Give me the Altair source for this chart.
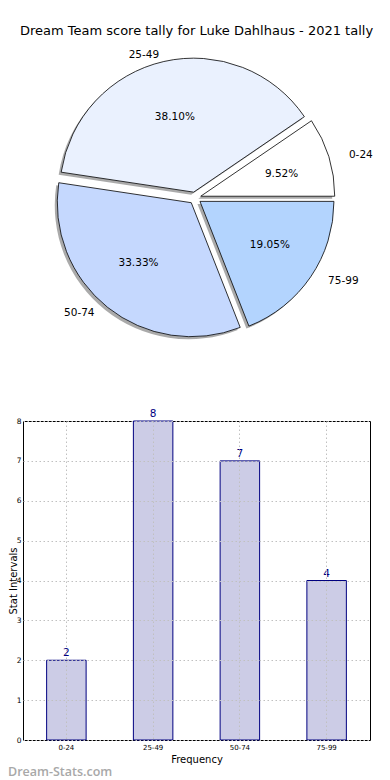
import altair as alt
import pandas as pd

# ---- data ----
labels = ["0-24", "25-49", "50-74", "75-99"]
counts = [2, 8, 7, 4]
slice_colors = ["#ffffff", "#eaf1fe", "#c5d8fe", "#b3d4fe"]
title_text = "Dream Team score tally for Luke Dahlhaus - 2021 tally"
watermark = ["Dream-Stats.com"]

FONT = "DejaVu Sans"
R = 134            # pie radius (px)
RX, RY = 141, 128  # label placement radii (reference pie is slightly elliptical)
EXPLODE = 6        # explode offset (px)
CX, CY = 172, -223 # pie centre relative to the bar plot origin

df = pd.DataFrame({"label": labels, "count": counts, "order": list(range(len(labels)))})

base = (
    alt.Chart(df)
    .transform_joinaggregate(total="sum(count)")
    .transform_window(cum="sum(count)", sort=[alt.SortField("order")])
    .transform_calculate(a1="2*PI*(datum.cum - datum.count)/datum.total")
    .transform_calculate(a2="2*PI*datum.cum/datum.total")
    .transform_calculate(mid="(datum.a1 + datum.a2)/2")
    .transform_calculate(t1="2.5*PI - datum.a2")
    .transform_calculate(t2="2.5*PI - datum.a1")
    .transform_calculate(ox=f"{CX} + {EXPLODE}*cos(datum.mid)")
    .transform_calculate(oy=f"{CY} - {EXPLODE}*sin(datum.mid)")
    .transform_calculate(pct="format(100*datum.count/datum.total, '.2f') + '%'")
)

shadow = (
    base.transform_calculate(sx="datum.ox - 2.5")
    .transform_calculate(sy="datum.oy + 2.5")
    .mark_arc(radius=R, fill="#555555", opacity=0.5)
    .encode(
        theta=alt.Theta("t1:Q", scale=None),
        theta2="t2:Q",
        x=alt.X("sx:Q", scale=None, axis=None),
        y=alt.Y("sy:Q", scale=None, axis=None),
    )
)

slices = base.mark_arc(radius=R, stroke="black", strokeWidth=0.8).encode(
    theta=alt.Theta("t1:Q", scale=None),
    theta2="t2:Q",
    x=alt.X("ox:Q", scale=None, axis=None),
    y=alt.Y("oy:Q", scale=None, axis=None),
    color=alt.Color("label:N", scale=alt.Scale(domain=labels, range=slice_colors), legend=None),
)

pct_text = (
    base.transform_calculate(tx=f"datum.ox + {0.6 * RX}*cos(datum.mid)")
    .transform_calculate(ty=f"datum.oy - {0.6 * RY}*sin(datum.mid)")
    .mark_text(fontSize=10.5, font=FONT, color="black")
    .encode(
        x=alt.X("tx:Q", scale=None, axis=None),
        y=alt.Y("ty:Q", scale=None, axis=None),
        text="pct:N",
    )
)

lab_base = (
    base.transform_calculate(lx=f"datum.ox + {1.1 * RX}*cos(datum.mid)")
    .transform_calculate(ly=f"datum.oy - {1.1 * RY}*sin(datum.mid)")
)
lab_right = lab_base.transform_filter("cos(datum.mid) > 0").mark_text(
    fontSize=10.5, font=FONT, align="left", baseline="middle", color="black"
).encode(
    x=alt.X("lx:Q", scale=None, axis=None),
    y=alt.Y("ly:Q", scale=None, axis=None),
    text="label:N",
)
lab_left = lab_base.transform_filter("cos(datum.mid) <= 0").mark_text(
    fontSize=10.5, font=FONT, align="right", baseline="middle", color="black"
).encode(
    x=alt.X("lx:Q", scale=None, axis=None),
    y=alt.Y("ly:Q", scale=None, axis=None),
    text="label:N",
)

xscale = alt.Scale(domain=labels, paddingInner=0.545, paddingOuter=0.2725)
yscale = alt.Scale(domain=[0, 8], nice=False)

bars = alt.Chart(df).mark_bar(fill="#cccce6", stroke="#000080", strokeWidth=1).encode(
    x=alt.X(
        "label:N",
        scale=xscale,
        sort=labels,
        axis=alt.Axis(
            title="Frequency", labelAngle=0, grid=True, ticks=False, domain=False,
            labelFontSize=7, labelPadding=3, titleFontSize=10, titlePadding=4,
            gridColor="#c0c0c0", gridDash=[1.5, 2.5], zindex=1,
        ),
    ),
    y=alt.Y(
        "count:Q",
        scale=yscale,
        axis=alt.Axis(
            title="Stat Intervals", values=list(range(9)), grid=True, ticks=False, domain=False,
            labelFontSize=7.5, labelPadding=2, titleFontSize=10,
            titleX=-7, titleBaseline="alphabetic",
            gridColor="#c0c0c0", gridDash=[1.5, 2.5], zindex=1,
        ),
    ),
)

bar_text = alt.Chart(df).mark_text(dy=-7, fontSize=10.5, font=FONT, color="#000080").encode(
    x=alt.X("label:N", scale=xscale, sort=labels, axis=None),
    y=alt.Y("count:Q", scale=yscale, axis=None),
    text="count:Q",
)

wm = alt.Chart(pd.DataFrame({"t": watermark})).mark_text(
    align="left", baseline="alphabetic", fontSize=12.5, fontWeight=600, font="Open Sans", color="#a8a8a8"
).encode(x=alt.value(-15), y=alt.value(355), text="t:N")

chart = (
    alt.layer(bars, bar_text, wm, shadow, slices, pct_text, lab_right, lab_left)
    .resolve_scale(x="independent", y="independent")
    .properties(
        width=347,
        height=319,
        autosize=alt.AutoSizeParams(type="none"),
        padding={"left": 15, "top": 413, "right": 12, "bottom": 40},
        title=alt.TitleParams(
            title_text, font=FONT, fontSize=13, fontWeight="normal", anchor="middle",
            frame="group", offset=12, color="black",
        ),
    )
    .configure_view(stroke="black", strokeWidth=1)
    .configure_axis(labelFont=FONT, titleFont=FONT, labelColor="black", titleColor="black", titleFontWeight="normal")
)

chart.save("out.html", embed_options={"renderer": "svg", "actions": False})
